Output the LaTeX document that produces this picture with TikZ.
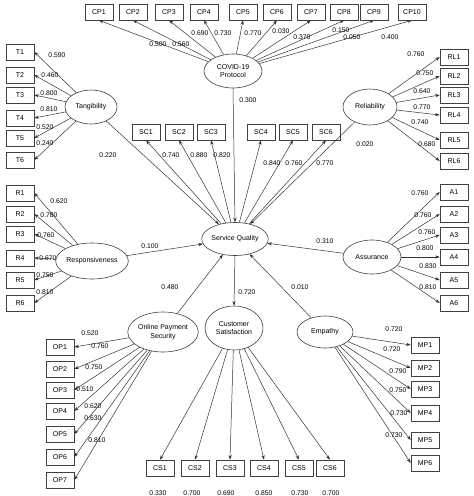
\documentclass[tikz,border=0pt]{standalone}
\usepackage{fontspec}
\setmainfont{Liberation Sans}
\usetikzlibrary{shapes.geometric,arrows.meta}
\begin{document}
\begin{tikzpicture}[x=1pt,y=-1pt,
  box/.style={draw=black!75, line width=0.6pt, minimum width=28pt, minimum height=16pt, inner sep=0pt, font=\fontsize{7}{8}\selectfont},
  lat/.style={draw=black!75, line width=0.6pt, ellipse, inner sep=0pt, font=\fontsize{7}{8.5}\selectfont, align=center},
  lab/.style={inner sep=0pt, font=\fontsize{6.8}{8}\selectfont},
  arr/.style={-{Stealth[length=4.5pt,width=3.2pt]}, draw=black!80, line width=0.5pt}]
\useasboundingbox (0,0) rectangle (474,496);

% latent variables
\node[lat, minimum width=58pt, minimum height=34pt] (covid) at (233,71) {COVID-19\\Protocol};
\node[lat, minimum width=52pt, minimum height=34pt] (tang) at (91,107) {Tangibility};
\node[lat, minimum width=54pt, minimum height=36pt] (rel) at (370,107) {Reliability};
\node[lat, minimum width=60pt, minimum height=33pt] (sq) at (235,239) {Service Quality};
\node[lat, minimum width=58pt, minimum height=36pt] (resp) at (92,261) {Responsiveness};
\node[lat, minimum width=58pt, minimum height=34pt] (assur) at (372,257) {Assurance};
\node[lat, minimum width=58pt, minimum height=40pt] (ops) at (163,332) {Online Payment\\Security};
\node[lat, minimum width=58pt, minimum height=44pt] (cs) at (234,328) {Customer\\Satisfaction};
\node[lat, minimum width=56pt, minimum height=32pt] (emp) at (325,332) {Empathy};

% indicator boxes
\foreach \n/\x in {1/99,2/133,3/169,4/204,5/243,6/277,7/311,8/344,9/374,10/412}
  \node[box] (cp\n) at (\x,12) {CP\n};
\foreach \n/\y in {1/52,2/75,3/95,4/118,5/138,6/160}
  \node[box] (t\n) at (20,\y) {T\n};
\foreach \n/\x in {1/146,2/179,3/211,4/261,5/293,6/326}
  \node[box] (sc\n) at (\x,132) {SC\n};
\foreach \n/\y in {1/57,2/76,3/95,4/115,5/140,6/161}
  \node[box] (rl\n) at (454,\y) {RL\n};
\foreach \n/\y in {1/193,2/214,3/234,4/258,5/280,6/303}
  \node[box] (r\n) at (20,\y) {R\n};
\foreach \n/\y in {1/192,2/214,3/235,4/257,5/280,6/303}
  \node[box] (a\n) at (454,\y) {A\n};
\foreach \n/\y in {1/347,2/369,3/390,4/411,5/434,6/457,7/480}
  \node[box] (op\n) at (60,\y) {OP\n};
\foreach \n/\x in {1/160,2/195,3/230,4/264,5/299,6/330}
  \node[box] (csb\n) at (\x,468) {CS\n};
\foreach \n/\y in {1/345,2/368,3/389,4/413,5/440,6/463}
  \node[box] (mp\n) at (425,\y) {MP\n};

% connectors
\foreach \n in {1,...,10} \draw[arr] (covid) -- (cp\n.south);
\foreach \n in {1,...,6} \draw[arr] (tang) -- (t\n.east);
\foreach \n in {1,...,6} \draw[arr] (sq) -- (sc\n.south);
\foreach \n in {1,...,6} \draw[arr] (rel) -- (rl\n.west);
\foreach \n in {1,...,6} \draw[arr] (resp) -- (r\n.east);
\foreach \n in {1,...,6} \draw[arr] (assur) -- (a\n.west);
\foreach \n in {1,...,7} \draw[arr] (ops) -- (op\n.east);
\foreach \n in {1,...,6} \draw[arr] (cs) -- (csb\n.north);
\foreach \n in {1,...,6} \draw[arr] (emp) -- (mp\n.west);

\draw[arr] (covid.south) -- (sq.north);
\draw[arr] (tang) -- (sq);
\draw[arr] (rel) -- (sq);
\draw[arr] (resp) -- (sq);
\draw[arr] (assur) -- (sq);
\draw[arr] (ops) -- (sq);
\draw[arr] (emp) -- (sq);
\draw[arr] (sq.south) -- (cs.north);

% coefficient labels
\foreach \n/\x/\y/\t in {1/158/44/0.500,2/181/44/0.560,3/200/33/0.690,4/223/33/0.730,5/253/33/0.770,6/281/31/0.030,7/302/37/0.370,8/341/30/0.150,9/352/37/0.050,10/390/37/0.400}
  \node[lab] (lcp\n) at (\x,\y) {\t};
\foreach \n/\y/\x/\t in {1/55/57/0.590,2/75/50/0.460,3/93/49/0.800,4/109/49/0.810,5/127/45/0.520,6/143/45/0.240}
  \node[lab] (lt\n) at (\x,\y) {\t};
\foreach \n/\x/\y/\t in {1/171/155/0.740,2/199/155/0.880,3/222/155/0.820,4/272/163/0.840,5/294/163/0.760,6/325/163/0.770}
  \node[lab] (lsc\n) at (\x,\y) {\t};
\foreach \n/\x/\y/\t in {1/416/54/0.760,2/425/73/0.750,3/422/91/0.640,4/422/107/0.770,5/420/122/0.740,6/427/144/0.680}
  \node[lab] (lrl\n) at (\x,\y) {\t};
\foreach \n/\x/\y/\t in {1/59/201/0.620,2/49/215/0.780,3/46/235/0.760,4/48/258/0.670,5/45/275/0.750,6/45/292/0.810}
  \node[lab] (lr\n) at (\x,\y) {\t};
\foreach \n/\x/\y/\t in {1/420/193/0.760,2/423/215/0.760,3/427/232/0.760,4/425/248/0.800,5/428/266/0.830,6/428/287/0.810}
  \node[lab] (la\n) at (\x,\y) {\t};
\foreach \n/\x/\y/\t in {1/90/333/0.520,2/100/346/0.760,3/94/367/0.750,4/85/389/0.510,5/93/406/0.620,6/93/418/0.630,7/97/440/0.810}
  \node[lab] (lop\n) at (\x,\y) {\t};
\foreach \n/\x/\y/\t in {1/394/329/0.720,2/392/349/0.720,3/398/371/0.790,4/398/390/0.750,5/399/413/0.730,6/394/435/0.730}
  \node[lab] (lmp\n) at (\x,\y) {\t};
\foreach \n/\x/\t in {1/158/0.330,2/192/0.700,3/226/0.690,4/264/0.850,5/300/0.730,6/331/0.700}
  \node[lab] (lcs\n) at (\x,493) {\t};

\node[lab] (lcovid) at (248,100) {0.300};
\node[lab] (ltang) at (108,155) {0.220};
\node[lab] (lrel) at (365,144) {0.020};
\node[lab] (lresp) at (150,246) {0.100};
\node[lab] (lassur) at (325,241) {0.310};
\node[lab] (lops) at (170,287) {0.480};
\node[lab] (lemp) at (300,287) {0.010};
\node[lab] (lcs) at (247,292) {0.720};
\end{tikzpicture}
\end{document}
